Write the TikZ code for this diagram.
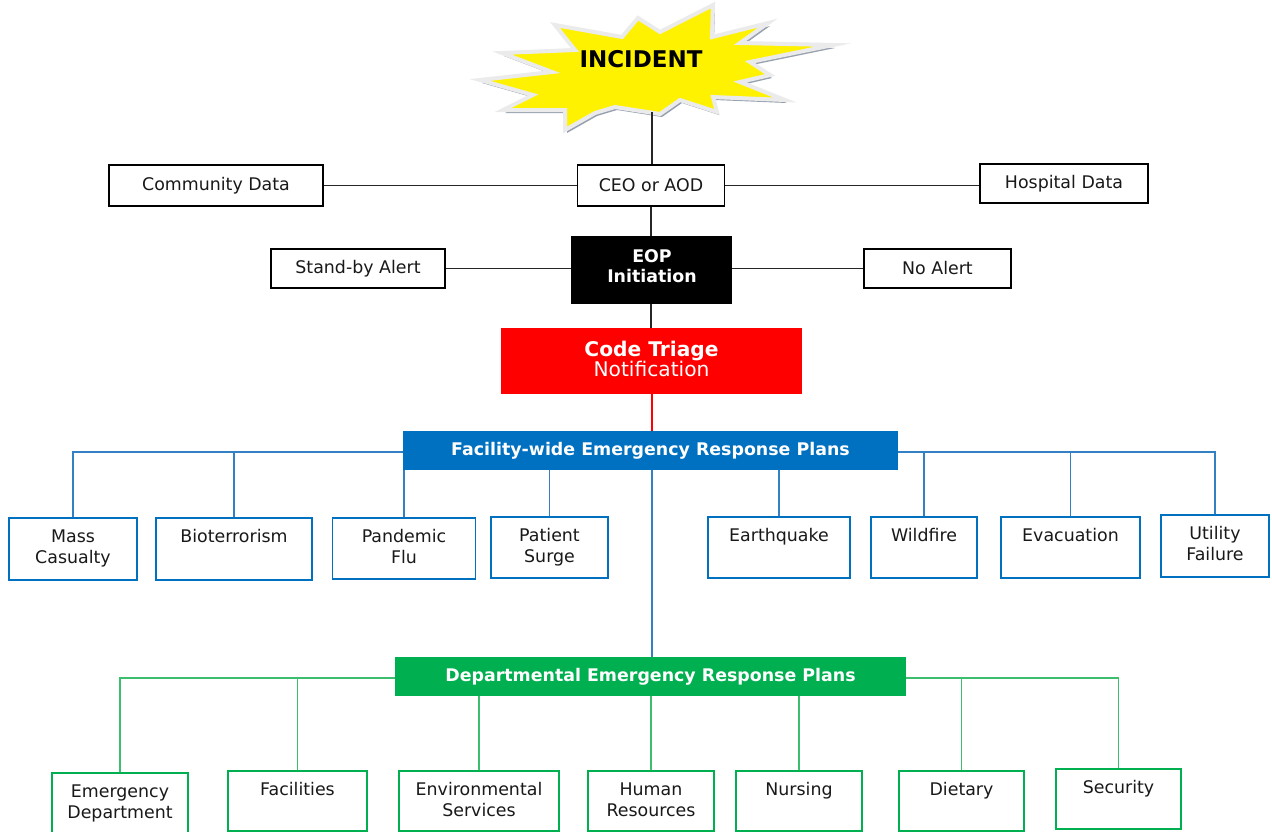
\documentclass[tikz,border=0pt]{standalone}
\usepackage{fontspec}
\setmainfont{DejaVu Sans}
\definecolor{fblue}{RGB}{0,112,192}
\definecolor{fblueline}{RGB}{52,128,196}
\definecolor{dgreen}{RGB}{0,176,80}
\definecolor{dgreenline}{RGB}{60,190,110}
\definecolor{tred}{RGB}{255,0,0}
\definecolor{txt}{RGB}{25,25,25}
\definecolor{starshadow}{RGB}{150,160,175}
\tikzset{
  wbox/.style={draw=black, line width=1.2pt, fill=white, inner sep=0pt, text=txt,
    font=\fontsize{17.4}{21}\selectfont, align=center},
  fbox/.style={draw=fblue, line width=1.2pt, fill=white, inner sep=0pt},
  gbox/.style={draw=dgreen, line width=1.2pt, fill=white, inner sep=0pt},
  boxtext/.style={anchor=north, inner sep=0pt, text=txt, align=center,
    font=\fontsize{17.4}{21}\selectfont},
  hdr/.style={inner sep=0pt, text=white, align=center, font=\bfseries\fontsize{17.4}{20}\selectfont},
  conn/.style={draw=black!85, line width=1.4pt},
  bconn/.style={draw=fblueline, line width=1.4pt},
  gconn/.style={draw=dgreenline, line width=1.4pt},
  rconn/.style={draw=tred, line width=1.6pt},
}
\begin{document}
\begin{tikzpicture}[x=1pt,y=-1pt]
\useasboundingbox (0,0) rectangle (1272,831);
\clip (0,0) rectangle (1272,831);
\fill[white] (0,0) rectangle (1272,831);

% starburst
\def\starpath{(713,5) -- (712,37) -- (768,23) -- (740,43) -- (833,45) -- (750,62) -- (770,75) -- (740,82) -- (785,100) -- (713,97) -- (717,112) -- (680,100) -- (660,114) -- (615,107) -- (595,113) -- (565,130) -- (565,110) -- (503,110) -- (533,95) -- (480,80) -- (552,72) -- (502,53) -- (575,50) -- (555,25) -- (622,37) -- (638,18) -- (660,32) -- cycle}
\coordinate (starbot) at (652,112);
\begin{scope}[shift={(2,3)}]
\fill[starshadow] \starpath;
\end{scope}
\filldraw[fill=yellow, draw=white!92!black, line width=4pt, line join=miter] \starpath;
\node[inner sep=0pt, font=\bfseries\fontsize{23}{26}\selectfont] (incident) at (641,59) {INCIDENT};

% top row
\node[wbox, minimum width=214, minimum height=41] (comm) at (216,185.5) {Community Data};
\node[wbox, minimum width=147, minimum height=41] (ceo) at (651,185.5) {CEO or AOD};
\node[wbox, minimum width=168, minimum height=39] (hosp) at (1064,183.5) {Hospital Data};
\draw[conn] (starbot) -- (starbot |- ceo.north);
\draw[conn] (comm.east) -- (ceo.west);
\draw[conn] (ceo.east) -- (ceo.east -| hosp.west);

% EOP row
\node[draw=black, fill=black, line width=1pt, minimum width=160, minimum height=67, inner sep=0pt] (eop) at (651,269.5) {};
\node[inner sep=0pt, text=white, align=center, font=\bfseries\fontsize{17.4}{20}\selectfont] (eopT) at (652,266) {EOP\\Initiation};
\node[wbox, minimum width=174, minimum height=39] (standby) at (358,268.5) {Stand-by Alert};
\node[wbox, minimum width=147, minimum height=39] (noalert) at (937.5,268.5) {No Alert};
\draw[conn] (ceo.south) -- (eop.north);
\draw[conn] (standby.east) -- (standby.east -| eop.west);
\draw[conn] (eop.east |- noalert.west) -- (noalert.west);

% Code triage
\node[fill=tred, minimum width=301, minimum height=66, inner sep=0pt] (triage) at (651.5,361) {};
\node[inner sep=0pt, text=white, align=center] (triageT) at (651.5,359)
  {{\bfseries\fontsize{20.2}{24}\selectfont Code Triage}\\{\fontsize{20.2}{24}\selectfont Notification}};
\draw[conn] (eop.south) -- (eop.south |- triage.north);

% Facility-wide
\node[hdr, fill=fblue, minimum width=495, minimum height=39] (facility) at (650.5,450.5) {Facility-wide Emergency Response Plans};
\draw[rconn] (triage.south -| 652,0) -- (facility.north -| 652,0);

\node[fbox, minimum width=128, minimum height=62] (mass) at (73,549) {};
\node[boxtext] (massT) at ([yshift=-12pt]mass.north) {Mass\\Casualty};
\node[fbox, minimum width=156, minimum height=62] (bio) at (234,549) {};
\node[boxtext] (bioT) at ([yshift=-12pt]bio.north) {Bioterrorism};
\node[fbox, minimum width=143, minimum height=61] (pand) at (404,548.5) {};
\node[boxtext] (pandT) at ([yshift=-12pt]pand.north) {Pandemic\\Flu};
\node[fbox, minimum width=117, minimum height=61] (surge) at (549.5,547.5) {};
\node[boxtext] (surgeT) at ([yshift=-12pt]surge.north) {Patient\\Surge};
\node[fbox, minimum width=142, minimum height=61] (earth) at (779,547.5) {};
\node[boxtext] (earthT) at ([yshift=-12pt]earth.north) {Earthquake};
\node[fbox, minimum width=106, minimum height=61] (wild) at (924,547.5) {};
\node[boxtext] (wildT) at ([yshift=-12pt]wild.north) {Wildfire};
\node[fbox, minimum width=139, minimum height=61] (evac) at (1070.5,547.5) {};
\node[boxtext] (evacT) at ([yshift=-12pt]evac.north) {Evacuation};
\node[fbox, minimum width=108, minimum height=62] (util) at (1215,546) {};
\node[boxtext] (utilT) at ([yshift=-12pt]util.north) {Utility\\Failure};

\coordinate (fl) at (403,452);
\coordinate (fr) at (898,452);
\draw[bconn] (fl) -| (mass.north);
\draw[bconn] (bio.north) -- (bio.north |- fl);
\draw[bconn] (pand.north) -- (pand.north |- facility.south);
\draw[bconn] (surge.north) -- (surge.north |- facility.south);
\draw[bconn] (earth.north) -- (earth.north |- facility.south);
\draw[bconn] (fr) -| (util.north);
\draw[bconn] (wild.north) -- (wild.north |- fr);
\draw[bconn] (evac.north) -- (evac.north |- fr);

% Departmental
\node[hdr, fill=dgreen, minimum width=511, minimum height=39] (dept) at (650.5,676.5) {Departmental Emergency Response Plans};
\draw[bconn] (facility.south -| 652,0) -- (dept.north -| 652,0);

\node[gbox, minimum width=136, minimum height=60] (emerg) at (120,803) {};
\node[boxtext] (emergT) at ([yshift=-12pt]emerg.north) {Emergency\\Department};
\node[gbox, minimum width=139, minimum height=60] (facil) at (297.5,801) {};
\node[boxtext] (facilT) at ([yshift=-12pt]facil.north) {Facilities};
\node[gbox, minimum width=160, minimum height=60] (env) at (479,801) {};
\node[boxtext] (envT) at ([yshift=-12pt]env.north) {Environmental\\Services};
\node[gbox, minimum width=126, minimum height=60] (hr) at (651,801) {};
\node[boxtext] (hrT) at ([yshift=-12pt]hr.north) {Human\\Resources};
\node[gbox, minimum width=126, minimum height=60] (nurs) at (799,801) {};
\node[boxtext] (nursT) at ([yshift=-12pt]nurs.north) {Nursing};
\node[gbox, minimum width=125, minimum height=60] (diet) at (961.5,801) {};
\node[boxtext] (dietT) at ([yshift=-12pt]diet.north) {Dietary};
\node[gbox, minimum width=125, minimum height=60] (sec) at (1118.5,799) {};
\node[boxtext] (secT) at ([yshift=-12pt]sec.north) {Security};

\coordinate (dl) at (395,678);
\coordinate (dr) at (906,678);
\draw[gconn] (dl) -| (emerg.north);
\draw[gconn] (facil.north) -- (facil.north |- dl);
\draw[gconn] (env.north) -- (env.north |- dept.south);
\draw[gconn] (hr.north) -- (hr.north |- dept.south);
\draw[gconn] (nurs.north) -- (nurs.north |- dept.south);
\draw[gconn] (dr) -| (sec.north);
\draw[gconn] (diet.north) -- (diet.north |- dr);
\end{tikzpicture}
\end{document}
